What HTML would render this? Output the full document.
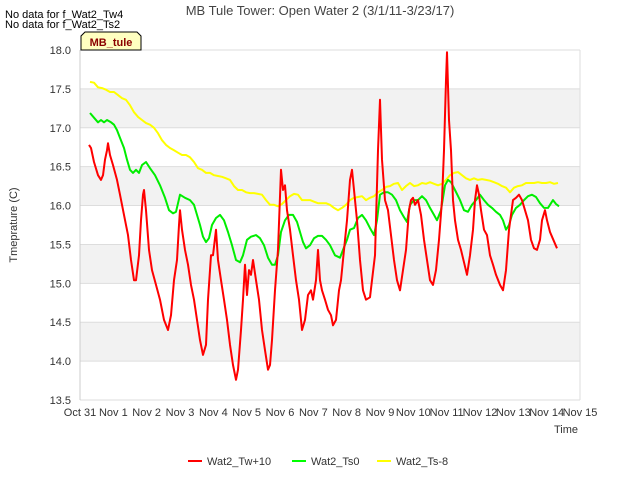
<!DOCTYPE html>
<html><head><meta charset="utf-8"><style>
body{margin:0;background:#fff;font-family:"Liberation Sans",sans-serif}
</style></head><body>
<svg width="640" height="480" xmlns="http://www.w3.org/2000/svg" font-family="Liberation Sans, sans-serif">
<g id="bands"></g>
<g id="axes"></g>
<g id="series"></g>
<text x="320" y="15" text-anchor="middle" font-size="13" fill="#444">MB Tule Tower: Open Water 2 (3/1/11-3/23/17)</text>
<text x="5" y="18" font-size="11" fill="#000">No data for f_Wat2_Tw4</text>
<text x="5" y="28" font-size="11" fill="#000">No data for f_Wat2_Ts2</text>
<g><path d="M81,50 L81,36 L85,32 L137,32 L141,36 L141,50 Z" fill="#ffffc0" stroke="#000" stroke-width="1"/>
<text x="111" y="46" text-anchor="middle" font-size="11" font-weight="bold" fill="#8b0000">MB_tule</text></g>
<text transform="translate(17,225) rotate(-90)" text-anchor="middle" font-size="11" fill="#333">Tmeprature (C)</text>
<text x="566" y="433" text-anchor="middle" font-size="11" fill="#333">Time</text>
<g>
<g><line x1="188" y1="461" x2="202" y2="461" stroke="#f00" stroke-width="2"/><text x="207" y="465" font-size="11" fill="#333">Wat2_Tw+10</text></g>
<g><line x1="292" y1="461" x2="306" y2="461" stroke="#0f0" stroke-width="2"/><text x="311" y="465" font-size="11" fill="#333">Wat2_Ts0</text></g>
<g><line x1="377" y1="461" x2="391" y2="461" stroke="#ff0" stroke-width="2"/><text x="396" y="465" font-size="11" fill="#333">Wat2_Ts-8</text></g>
</g>
</svg>
<script>
const xTickLabels=["Oct 31","Nov 1","Nov 2","Nov 3","Nov 4","Nov 5","Nov 6","Nov 7","Nov 8","Nov 9","Nov 10","Nov 11","Nov 12","Nov 13","Nov 14","Nov 15"];
const yTicks=[13.5,14.0,14.5,15.0,15.5,16.0,16.5,17.0,17.5,18.0];
const redDays=[.27,.33,.42,.54,.63,.69,.75,.81,.84,.90,.99,1.11,1.20,1.32,1.44,1.53,1.62,1.68,1.77,1.83,1.89,1.92,1.98,2.07,2.16,2.28,2.40,2.52,2.64,2.73,2.82,2.91,2.97,3.00,3.06,3.15,3.24,3.33,3.42,3.51,3.60,3.69,3.78,3.84,3.93,3.99,4.08,4.14,4.23,4.32,4.41,4.50,4.59,4.68,4.74,4.83,4.89,4.95,5.01,5.07,5.13,5.19,5.28,5.37,5.46,5.55,5.64,5.70,5.76,5.85,5.94,6.03,6.09,6.15,6.21,6.30,6.39,6.48,6.57,6.66,6.75,6.84,6.93,6.99,7.08,7.14,7.20,7.26,7.35,7.44,7.53,7.59,7.68,7.77,7.83,7.92,8.01,8.10,8.16,8.22,8.31,8.40,8.49,8.58,8.70,8.76,8.85,8.94,9.00,9.06,9.15,9.24,9.33,9.42,9.51,9.60,9.69,9.78,9.87,9.93,9.99,10.05,10.14,10.23,10.32,10.41,10.50,10.59,10.68,10.77,10.86,10.92,10.98,11.01,11.07,11.13,11.19,11.25,11.34,11.43,11.52,11.61,11.70,11.79,11.85,11.91,11.97,12.03,12.12,12.21,12.30,12.39,12.48,12.60,12.69,12.78,12.87,12.93,12.99,13.08,13.17,13.26,13.35,13.44,13.53,13.62,13.71,13.80,13.86,13.95,14.01,14.10,14.16,14.25,14.31];
const redVals=[16.78,16.74,16.56,16.39,16.33,16.39,16.59,16.71,16.80,16.65,16.52,16.33,16.14,15.88,15.62,15.30,15.04,15.04,15.36,15.81,16.14,16.20,15.94,15.43,15.17,14.98,14.79,14.53,14.40,14.59,15.04,15.30,15.75,15.94,15.69,15.43,15.24,14.98,14.79,14.53,14.27,14.08,14.21,14.79,15.36,15.36,15.69,15.30,15.04,14.79,14.53,14.21,13.95,13.76,13.89,14.40,14.79,15.24,14.85,15.17,15.11,15.30,15.04,14.79,14.40,14.14,13.89,13.95,14.27,14.91,15.43,16.46,16.20,16.26,15.94,15.69,15.36,15.04,14.79,14.40,14.53,14.85,14.91,14.79,15.04,15.43,15.04,14.91,14.79,14.66,14.59,14.46,14.53,14.91,15.04,15.43,15.81,16.33,16.46,16.20,15.81,15.30,14.91,14.79,14.82,15.04,15.36,16.71,17.36,16.59,16.07,15.94,15.62,15.30,15.04,14.91,15.17,15.43,15.94,16.07,16.10,16.01,16.07,15.88,15.56,15.30,15.04,14.98,15.17,15.56,16.07,16.71,17.61,17.97,17.10,16.71,16.07,15.81,15.56,15.43,15.27,15.11,15.36,15.69,16.07,16.26,16.14,15.94,15.69,15.62,15.36,15.24,15.11,14.98,14.91,15.17,15.69,15.88,16.07,16.10,16.14,16.07,15.94,15.81,15.56,15.45,15.43,15.56,15.81,15.94,15.81,15.66,15.60,15.51,15.45];
const greenDays=[.30,.42,.54,.63,.72,.81,.93,1.02,1.11,1.20,1.32,1.41,1.50,1.59,1.68,1.77,1.86,1.98,2.10,2.25,2.40,2.55,2.67,2.79,2.88,3.00,3.15,3.30,3.42,3.51,3.60,3.69,3.78,3.87,3.96,4.08,4.20,4.32,4.44,4.56,4.68,4.80,4.89,5.01,5.13,5.28,5.40,5.52,5.64,5.76,5.85,5.94,6.03,6.15,6.27,6.39,6.51,6.60,6.69,6.78,6.90,7.02,7.14,7.26,7.38,7.50,7.65,7.80,7.89,8.01,8.10,8.22,8.34,8.46,8.58,8.70,8.82,8.91,9.00,9.12,9.24,9.36,9.48,9.60,9.72,9.81,9.90,10.02,10.14,10.26,10.38,10.50,10.62,10.71,10.83,10.95,11.04,11.13,11.25,11.40,11.52,11.64,11.76,11.88,12.00,12.12,12.24,12.36,12.48,12.60,12.69,12.78,12.87,12.96,13.08,13.20,13.32,13.44,13.56,13.68,13.80,13.92,14.04,14.10,14.19,14.28,14.37];
const greenVals=[17.19,17.13,17.07,17.10,17.07,17.10,17.07,17.04,16.97,16.87,16.74,16.59,16.46,16.42,16.46,16.42,16.52,16.56,16.48,16.39,16.26,16.10,15.94,15.90,15.92,16.14,16.10,16.07,16.01,15.88,15.75,15.60,15.53,15.58,15.75,15.84,15.88,15.81,15.66,15.49,15.30,15.27,15.36,15.56,15.60,15.62,15.58,15.49,15.33,15.24,15.24,15.36,15.66,15.81,15.88,15.88,15.79,15.66,15.53,15.45,15.49,15.58,15.61,15.61,15.56,15.49,15.36,15.33,15.43,15.56,15.69,15.71,15.84,15.88,15.81,15.71,15.62,15.81,16.14,16.17,16.17,16.14,16.07,15.94,15.85,15.79,16.01,16.07,16.07,16.12,16.07,15.97,15.88,15.81,15.94,16.26,16.33,16.30,16.20,16.07,15.94,15.92,16.01,16.07,16.14,16.07,16.01,15.97,15.92,15.88,15.81,15.69,15.75,15.88,15.97,16.01,16.07,16.12,16.14,16.11,16.03,15.97,15.97,16.01,16.07,16.02,15.99];
const yellowStartDay=0.30;
const yellowStepDays=0.12;
const yellowVals=[17.59,17.58,17.52,17.51,17.49,17.46,17.46,17.42,17.38,17.36,17.29,17.20,17.14,17.10,17.06,17.04,17.00,16.93,16.84,16.78,16.74,16.71,16.68,16.65,16.65,16.62,16.56,16.48,16.46,16.42,16.42,16.39,16.38,16.37,16.35,16.33,16.25,16.20,16.20,16.17,16.16,16.16,16.15,16.14,16.07,16.01,16.01,15.99,16.02,16.07,16.12,16.15,16.14,16.07,16.07,16.07,16.05,16.03,16.03,16.03,16.01,15.97,15.94,15.97,16.01,16.07,16.10,16.11,16.12,16.07,16.10,16.12,16.17,16.20,16.24,16.25,16.28,16.29,16.20,16.25,16.29,16.25,16.26,16.29,16.28,16.30,16.28,16.26,16.28,16.33,16.39,16.42,16.43,16.39,16.35,16.33,16.35,16.33,16.34,16.33,16.32,16.30,16.28,16.25,16.23,16.17,16.23,16.25,16.26,16.29,16.29,16.29,16.30,16.29,16.29,16.30,16.28,16.29];

const NS='http://www.w3.org/2000/svg';
const X0=80,X1=580,Y0=400,Y1=50,YMIN=13.5,YMAX=18.0,DAYS=15;
function xs(d){return X0+d*(X1-X0)/DAYS;}
function ys(v){return Y0-(v-YMIN)*(Y0-Y1)/(YMAX-YMIN);}
function mk(tag,attrs,parent){const e=document.createElementNS(NS,tag);for(const k in attrs)e.setAttribute(k,attrs[k]);parent.appendChild(e);return e;}
const bands=document.getElementById('bands'),axes=document.getElementById('axes'),series=document.getElementById('series');
const bg=mk('rect',{x:X0,y:Y1,width:X1-X0,height:Y0-Y1,fill:'#fff'},bands);


for(let i=0;i<yTicks.length-1;i++){
  if(i%2===1){
    const r=mk('rect',{x:X0,y:ys(yTicks[i+1]),width:X1-X0,height:ys(yTicks[i])-ys(yTicks[i+1]),fill:'#f2f2f2'},bands);
    
    
  }
}
yTicks.forEach(v=>{
  const l=mk('line',{x1:X0,x2:X1,y1:ys(v),y2:ys(v),stroke:'#ddd','stroke-width':1},axes);
  
  
  const t=mk('text',{x:X0-9,y:ys(v)+4,'text-anchor':'end','font-size':11,fill:'#333'},axes);
  t.textContent=v.toFixed(1);
  
  
});
mk('line',{x1:X0,x2:X0,y1:Y1,y2:Y0,stroke:'#ccc'},axes);
mk('line',{x1:X1,x2:X1,y1:Y1,y2:Y0,stroke:'#ddd'},axes);
xTickLabels.forEach((s,i)=>{
  const t=mk('text',{x:xs(i),y:Y0+16,'text-anchor':'middle','font-size':11,fill:'#333'},axes);
  t.textContent=s;
  
  
});
function line(days,vals,color,name){
  const p=mk('polyline',{points:days.map((d,i)=>xs(d).toFixed(1)+','+ys(vals[i]).toFixed(1)).join(' '),fill:'none',stroke:color,'stroke-width':2,'stroke-linejoin':'round'},series);
  
  
}
const yellowDays=yellowVals.map((_,i)=>yellowStartDay+i*yellowStepDays);
line(yellowDays,yellowVals,'#ffff00','series-ts8');
line(greenDays,greenVals,'#00ee00','series-ts0');
line(redDays,redVals,'#ff0000','series-tw10');
</script>
</body></html>
